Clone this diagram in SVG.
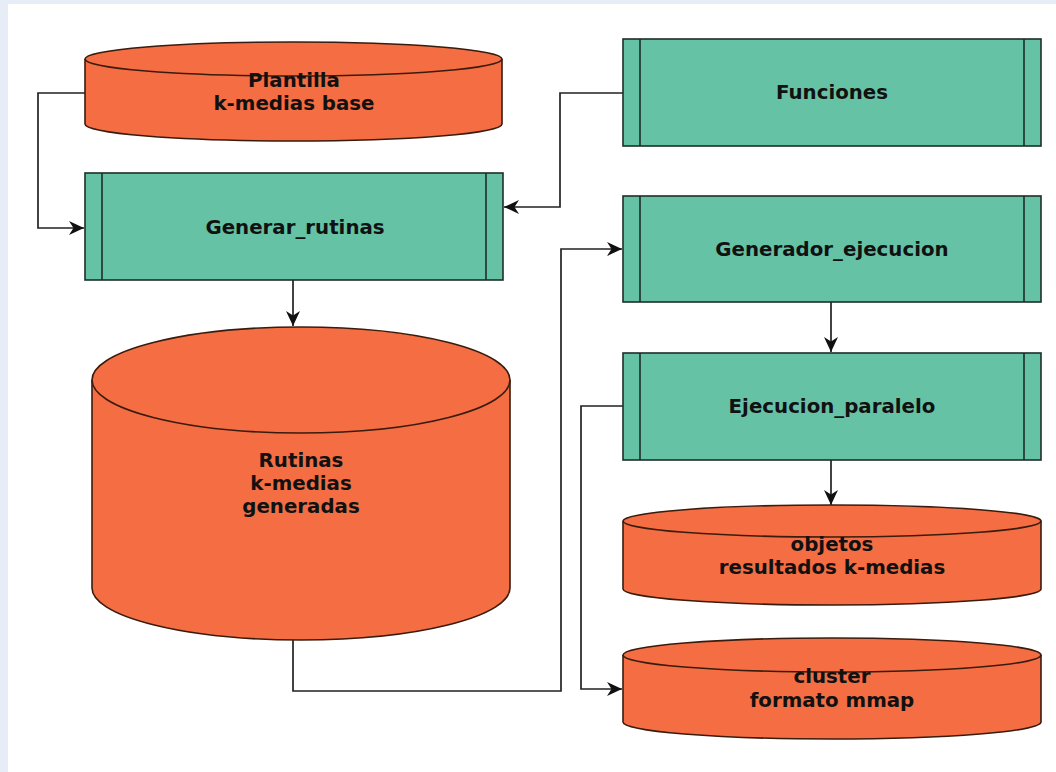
<svg xmlns="http://www.w3.org/2000/svg" width="1056" height="772" viewBox="0 0 1056 772">
<defs>
<style>
.cyl{fill:#f46d43;stroke:#3a1c0e;stroke-width:1.6}
.cylf{fill:none;stroke:#3a1c0e;stroke-width:1.6}
.proc{fill:#66c2a5;stroke:#1f2d28;stroke-width:1.6}
.bar{fill:none;stroke:#1f2d28;stroke-width:1.6}
.lbl{font-family:"DejaVu Sans",sans-serif;font-weight:bold;font-size:19.8px;fill:#111;text-anchor:middle}
.conn{fill:none;stroke:#222;stroke-width:1.7}
</style>
<marker id="arr" markerUnits="userSpaceOnUse" markerWidth="18" markerHeight="16" refX="15" refY="7" orient="auto">
<path d="M0,0 L15,7 L0,14 L4.5,7 Z" fill="#111"/>
</marker>
</defs>
<rect x="0" y="0" width="1056" height="772" fill="#e6edf7"/>
<rect x="8" y="4" width="1048" height="768" fill="#ffffff"/>

<g id="connectors">
<path class="conn" d="M85,93 H38 V228 H84" marker-end="url(#arr)"/>
<path class="conn" d="M623,93 H560 V207 H504" marker-end="url(#arr)"/>
<path class="conn" d="M293,280 V326" marker-end="url(#arr)"/>
<path class="conn" d="M293,640 V691 H561 V249 H622" marker-end="url(#arr)"/>
<path class="conn" d="M831,302 V352" marker-end="url(#arr)"/>
<path class="conn" d="M623,406 H581 V689 H622" marker-end="url(#arr)"/>
<path class="conn" d="M831,460 V505" marker-end="url(#arr)"/>
</g>

<g id="plantilla">
<path class="cyl" d="M85,59 V124 A208.5,17 0 0 0 502,124 V59 A208.5,17 0 0 0 85,59 Z"/>
<path class="cylf" d="M85,59 A208.5,17 0 0 0 502,59"/>
<text class="lbl" x="294" y="87">Plantilla</text>
<text class="lbl" x="294" y="110">k-medias base</text>
</g>

<g id="generar_rutinas">
<rect class="proc" x="85" y="173" width="418" height="107"/>
<path class="bar" d="M102,173 V280 M486,173 V280"/>
<text class="lbl" x="295" y="234">Generar_rutinas</text>
</g>

<g id="rutinas">
<path class="cyl" d="M92,380 V588 A209,52 0 0 0 510,588 V380 A209,53 0 0 0 92,380 Z"/>
<path class="cylf" d="M92,380 A209,53 0 0 0 510,380"/>
<text class="lbl" x="301" y="467">Rutinas</text>
<text class="lbl" x="301" y="490">k-medias</text>
<text class="lbl" x="301" y="513">generadas</text>
</g>

<g id="funciones">
<rect class="proc" x="623" y="39" width="418" height="107"/>
<path class="bar" d="M640,39 V146 M1024,39 V146"/>
<text class="lbl" x="832" y="99">Funciones</text>
</g>

<g id="generador_ejecucion">
<rect class="proc" x="623" y="196" width="418" height="106"/>
<path class="bar" d="M640,196 V302 M1024,196 V302"/>
<text class="lbl" x="832" y="256">Generador_ejecucion</text>
</g>

<g id="ejecucion_paralelo">
<rect class="proc" x="623" y="353" width="418" height="107"/>
<path class="bar" d="M640,353 V460 M1024,353 V460"/>
<text class="lbl" x="832" y="413">Ejecucion_paralelo</text>
</g>

<g id="objetos">
<path class="cyl" d="M623,521 V589 A209,16 0 0 0 1041,589 V521 A209,16 0 0 0 623,521 Z"/>
<path class="cylf" d="M623,521 A209,16 0 0 0 1041,521"/>
<text class="lbl" x="832" y="551">objetos</text>
<text class="lbl" x="832" y="574">resultados k-medias</text>
</g>

<g id="cluster">
<path class="cyl" d="M623,655 V722 A209,17 0 0 0 1041,722 V655 A209,17 0 0 0 623,655 Z"/>
<path class="cylf" d="M623,655 A209,17 0 0 0 1041,655"/>
<text class="lbl" x="832" y="683">cluster</text>
<text class="lbl" x="832" y="707">formato mmap</text>
</g>
</svg>
